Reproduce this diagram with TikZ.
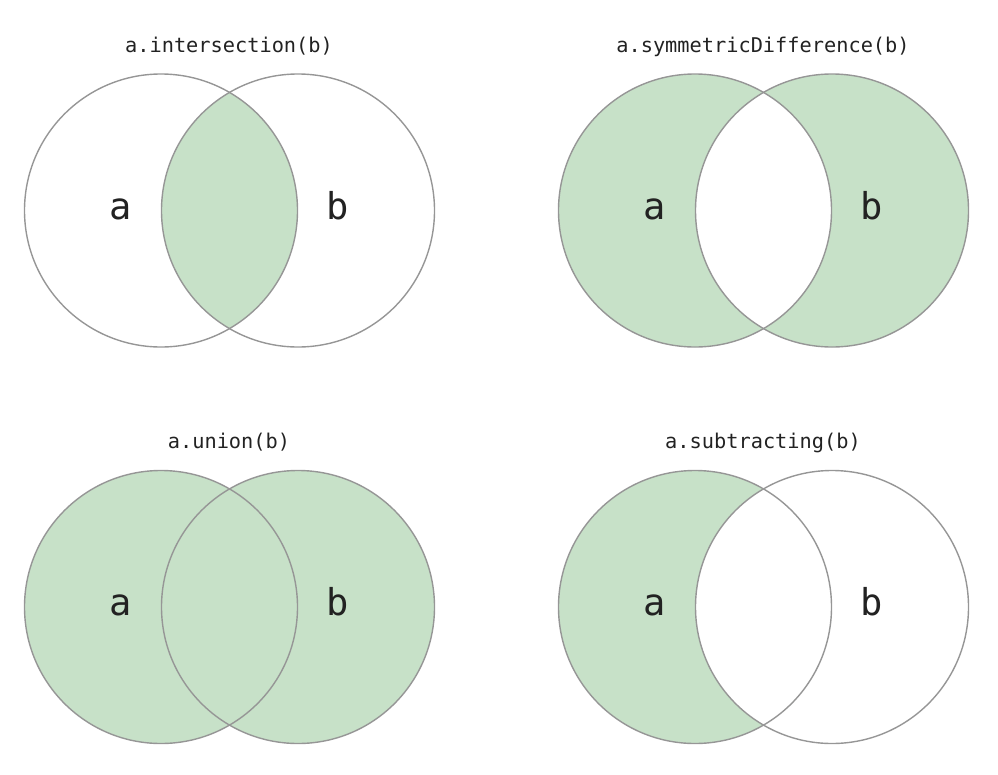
\documentclass[tikz,border=0pt]{standalone}
\usepackage{fontspec}
\newfontfamily\mono{DejaVu Sans Mono}
\definecolor{setfill}{RGB}{199,225,200}
\definecolor{setline}{RGB}{150,150,150}
\definecolor{settext}{RGB}{34,34,34}
\tikzset{
  ring/.style={draw=setline, line width=1.4pt},
  title/.style={font=\mono\fontsize{20.3}{24}\selectfont, text=settext, inner sep=0pt, anchor=base},
  setlabel/.style={font=\mono\fontsize{37}{44}\selectfont, text=settext, inner sep=0pt, anchor=base}
}
\begin{document}
\begin{tikzpicture}[x=1pt,y=-1pt]
\useasboundingbox (0,0) rectangle (998,774);
\def\R{136.5}
% ---------- top-left: intersection
\begin{scope}
  \clip (161,210.5) circle (\R);
  \fill[setfill] (298,210.5) circle (\R);
\end{scope}
\draw[ring] (161,210.5) circle (\R);
\draw[ring] (298,210.5) circle (\R);
\node[title] (t1) at (229,52) {a.intersection(b)};
\node[setlabel] (a1) at (121,219) {a};
\node[setlabel] (b1) at (338,219) {b};
% ---------- top-right: symmetric difference
\fill[setfill, even odd rule] (695,210.5) circle (\R) (832,210.5) circle (\R);
\draw[ring] (695,210.5) circle (\R);
\draw[ring] (832,210.5) circle (\R);
\node[title] (t2) at (763,52) {a.symmetricDifference(b)};
\node[setlabel] (a2) at (655,219) {a};
\node[setlabel] (b2) at (872,219) {b};
% ---------- bottom-left: union
\fill[setfill] (161,607) circle (\R) (298,607) circle (\R);
\draw[ring] (161,607) circle (\R);
\draw[ring] (298,607) circle (\R);
\node[title] (t3) at (229,448) {a.union(b)};
\node[setlabel] (a3) at (121,615) {a};
\node[setlabel] (b3) at (338,615) {b};
% ---------- bottom-right: subtracting
\begin{scope}
  \clip (695,607) circle (\R);
  \fill[setfill, even odd rule] (695,607) circle (\R) (832,607) circle (\R);
\end{scope}
\draw[ring] (695,607) circle (\R);
\draw[ring] (832,607) circle (\R);
\node[title] (t4) at (763,448) {a.subtracting(b)};
\node[setlabel] (a4) at (655,615) {a};
\node[setlabel] (b4) at (872,615) {b};
\end{tikzpicture}
\end{document}
